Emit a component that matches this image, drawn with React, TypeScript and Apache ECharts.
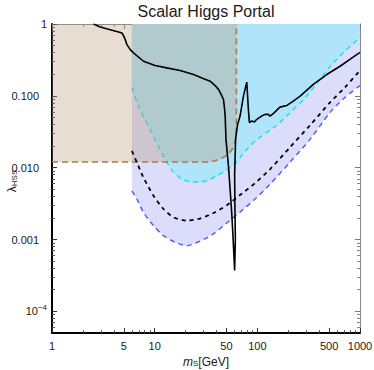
import React, { useEffect, useRef } from "react";
import * as echarts from "echarts";

// ---- data ----
// excluded region (brown dashed boundary)
const tanX = [1, 34.7, 43.4, 52.2, 58.5, 60.8, 62.1, 62.5, 62.5];
const tanY = [0.012, 0.012, 0.0131, 0.0154, 0.0191, 0.0224, 0.0308, 0.047, 1];

// upper band edge (cyan dashed)
const cyanX = [6, 7, 8, 9, 10, 11, 12.5, 15, 18, 22, 27, 33, 40, 50, 60, 75, 100, 150, 200, 300, 500, 700, 1000];
const cyanY = [0.13, 0.07, 0.047, 0.034, 0.025, 0.019, 0.0135, 0.0089, 0.0071, 0.0064, 0.0063, 0.0067, 0.0077, 0.0093, 0.0112, 0.0165, 0.025, 0.0376, 0.055, 0.098, 0.245, 0.41, 0.645];

// lower band edge (blue dashed)
const lowX = [6, 6.72, 7.78, 9.75, 12.2, 15.8, 20.6, 27.7, 37.4, 50.5, 67.8, 95, 133, 208, 326, 511, 713, 1000];
const lowY = [0.00477, 0.00366, 0.00239, 0.00156, 0.00113, 0.00092, 0.00082, 0.00095, 0.0012, 0.0017, 0.00241, 0.00366, 0.0059, 0.0119, 0.0248, 0.0589, 0.095, 0.139];

// median (black dashed)
const medX = [6, 6.72, 7.78, 9.75, 12.2, 15.3, 20.6, 27.7, 37.4, 50.5, 67.8, 95, 133, 208, 326, 511, 713, 1000];
const medY = [0.0171, 0.0118, 0.0073, 0.00406, 0.00266, 0.00204, 0.00183, 0.00196, 0.00234, 0.003, 0.00416, 0.0061, 0.0095, 0.0192, 0.0389, 0.081, 0.131, 0.225];

// solid black curve
const solidX = [2.54, 2.95, 3.69, 4.45, 4.8, 4.97, 5.17, 5.37, 5.78, 6.22, 7.78, 10.1, 13.1, 17.7, 23.9, 29.7, 34.7, 38.8, 41.8, 44.4, 46.8, 48.0, 48.6, 49.5, 52.3, 54.3, 56.4, 58.1, 60.1, 61.1, 60.5, 60.1, 61.4, 64.2, 67.9, 73.2, 78.9, 81.8, 83.7, 88.3, 93.6, 98.8, 110, 119, 128, 133, 143, 166, 194, 224, 261, 351, 474, 639, 929, 1000];
const solidY = [1.0, 0.909, 0.834, 0.775, 0.75, 0.689, 0.605, 0.516, 0.44, 0.396, 0.303, 0.264, 0.245, 0.225, 0.198, 0.174, 0.16, 0.139, 0.123, 0.105, 0.089, 0.0648, 0.0523, 0.0248, 0.0106, 0.00503, 0.00226, 0.00102, 0.00037, 0.00102, 0.00266, 0.0081, 0.0248, 0.04, 0.0523, 0.099, 0.155, 0.0648, 0.0424, 0.0446, 0.0432, 0.0471, 0.0523, 0.0552, 0.0552, 0.0523, 0.0565, 0.0697, 0.0736, 0.0844, 0.099, 0.144, 0.198, 0.258, 0.375, 0.404];

// ticks
const xLabelValues = [1, 5, 10, 50, 100, 500, 1000];
const xLabelTexts = ["1", "5", "10", "50", "100", "500", "1000"];
const xMinor = [2, 3, 4, 6, 7, 8, 9, 20, 30, 40, 60, 70, 80, 90, 200, 300, 400, 600, 700, 800, 900];
const yLabelValues = [0.0001, 0.001, 0.01, 0.1, 1];
const yLabelTexts = ["{a|10}{sup|−4}", "{d|0.001}", "{d|0.010}", "{d|0.100}", "{a|1}"];
const yMinor = [
  0.00006, 0.00007, 0.00008, 0.00009,
  0.0002, 0.0003, 0.0004, 0.0005, 0.0006, 0.0007, 0.0008, 0.0009,
  0.002, 0.003, 0.004, 0.005, 0.006, 0.007, 0.008, 0.009,
  0.02, 0.03, 0.04, 0.05, 0.06, 0.07, 0.08, 0.09,
  0.2, 0.3, 0.4, 0.5, 0.6, 0.7, 0.8, 0.9,
];

const FONT = "'Liberation Sans', Arial, sans-serif";
const pairs = (xs: number[], ys: number[]) => xs.map((x, i) => [x, ys[i]]);

function nearestIdx(vals: number[], v: number) {
  let best = 0;
  let bd = Infinity;
  vals.forEach((t, i) => {
    const d = Math.abs(Math.log10(t) - Math.log10(v));
    if (d < bd) {
      bd = d;
      best = i;
    }
  });
  return best;
}

export default function App() {
  const ref = useRef<HTMLDivElement>(null);
  useEffect(() => {
    if (!ref.current) return;
    const chart = echarts.init(ref.current, null, { renderer: "svg" });
    const X_MIN = 1, X_MAX = 1000, Y_MIN = 0.00005, Y_MAX = 1;
    const baseX = { type: "log", logBase: 10, min: X_MIN, max: X_MAX, splitLine: { show: false }, axisPointer: { show: false } };
    const baseY = { type: "log", logBase: 10, min: Y_MIN, max: Y_MAX, splitLine: { show: false }, axisPointer: { show: false } };
    const option: any = {
      animation: false,
      graphic: [
        {
          type: "text",
          x: 206,
          y: 3,
          style: {
            text: "Scalar Higgs Portal",
            fontSize: 16,
            fontFamily: FONT,
            fill: "#1a1a1a",
            align: "center",
            verticalAlign: "top",
          },
        },
        {
          type: "text",
          x: 12,
          y: 181,
          rotation: Math.PI / 2,
          style: {
            text: "{l|λ}{s|HSS}",
            align: "center",
            verticalAlign: "middle",
            fill: "#1a1a1a",
            rich: {
              l: { fontSize: 12, fontFamily: FONT, fill: "#1a1a1a" },
              s: { fontSize: 8, fontFamily: FONT, fill: "#1a1a1a", padding: [5, 0, 0, 0] },
            },
          },
        },
      ],
      grid: { left: 52, right: 14, top: 24, bottom: 37, containLabel: false, outerBoundsMode: "none" },
      xAxis: [
        {
          ...baseX,
          position: "bottom",
          axisLine: { show: true, lineStyle: { color: "#000", width: 2 } },
          axisTick: { show: true, inside: true, length: 5, customValues: xLabelValues, lineStyle: { color: "#333", width: 1 } },
          axisLabel: {
            customValues: xLabelValues,
            margin: 7,
            fontSize: 11,
            color: "#1a1a1a",
            fontFamily: FONT,
            formatter: (v: number) => xLabelTexts[nearestIdx(xLabelValues, v)],
          },
          name: "{m|m}{s|S}{g|[GeV]}",
          nameLocation: "middle",
          nameGap: 22,
          nameTextStyle: {
            rich: {
              m: { fontSize: 12, fontStyle: "italic", fontFamily: FONT, color: "#1a1a1a" },
              s: { fontSize: 8, fontFamily: FONT, color: "#1a1a1a", padding: [4, 0, 0, 0] },
              g: { fontSize: 12, fontFamily: FONT, color: "#1a1a1a" },
            },
          },
        },
        {
          ...baseX,
          position: "bottom",
          axisLine: { show: false },
          axisTick: { show: true, inside: true, length: 3, customValues: xMinor, lineStyle: { color: "#555", width: 1 } },
          axisLabel: { show: false },
        },
        {
          ...baseX,
          position: "top",
          axisLine: { show: true, lineStyle: { color: "#888", width: 1 } },
          axisTick: { show: true, inside: true, length: 5, customValues: xLabelValues, lineStyle: { color: "#777", width: 1 } },
          axisLabel: { show: false },
        },
        {
          ...baseX,
          position: "top",
          axisLine: { show: false },
          axisTick: { show: true, inside: true, length: 3, customValues: xMinor, lineStyle: { color: "#888", width: 1 } },
          axisLabel: { show: false },
        },
      ],
      yAxis: [
        {
          ...baseY,
          position: "left",
          axisLine: { show: true, lineStyle: { color: "#000", width: 2 } },
          axisTick: { show: true, inside: true, length: 5, customValues: yLabelValues, lineStyle: { color: "#333", width: 1 } },
          axisLabel: {
            customValues: yLabelValues,
            margin: 5,
            fontSize: 11,
            color: "#1a1a1a",
            fontFamily: FONT,
            formatter: (v: number) => yLabelTexts[nearestIdx(yLabelValues, v)],
            rich: {
              a: { fontSize: 11, fontFamily: FONT, color: "#1a1a1a" },
              d: { fontSize: 11, fontFamily: FONT, color: "#1a1a1a", padding: [0, 8, 0, 0] },
              sup: { fontSize: 8, fontFamily: FONT, color: "#1a1a1a", padding: [0, 0, 8, 0] },
            },
          },
        },
        {
          ...baseY,
          position: "left",
          axisLine: { show: false },
          axisTick: { show: true, inside: true, length: 3, customValues: yMinor, lineStyle: { color: "#555", width: 1 } },
          axisLabel: { show: false },
        },
        {
          ...baseY,
          position: "right",
          axisLine: { show: true, lineStyle: { color: "#888", width: 1 } },
          axisTick: { show: true, inside: true, length: 5, customValues: yLabelValues, lineStyle: { color: "#777", width: 1 } },
          axisLabel: { show: false },
        },
        {
          ...baseY,
          position: "right",
          axisLine: { show: false },
          axisTick: { show: true, inside: true, length: 3, customValues: yMinor, lineStyle: { color: "#888", width: 1 } },
          axisLabel: { show: false },
        },
      ],
      series: [
        {
          type: "line",
          name: "lower",
          data: pairs(lowX, lowY),
          symbol: "none",
          smooth: 0.25,
          lineStyle: { color: "#5c5cf2", width: 1.5, type: [5, 4] },
          areaStyle: { color: "#dcdcfb", opacity: 1, origin: "end" },
          z: 2,
        },
        {
          type: "line",
          name: "upper",
          data: pairs(cyanX, cyanY),
          symbol: "none",
          smooth: 0.25,
          lineStyle: { color: "#18e3ef", width: 1.5, type: [5, 4] },
          areaStyle: { color: "#b0e4fa", opacity: 1, origin: "end" },
          z: 3,
        },
        {
          type: "line",
          name: "excluded",
          data: pairs(tanX, tanY),
          symbol: "none",
          lineStyle: { color: "#b07a45", width: 1.6, type: [6, 4] },
          areaStyle: { color: "rgba(180,150,115,0.32)", opacity: 1, origin: "end" },
          z: 4,
        },
        {
          type: "line",
          name: "median",
          data: pairs(medX, medY),
          symbol: "none",
          smooth: 0.25,
          lineStyle: { color: "#000", width: 1.8, type: [4, 4] },
          z: 5,
        },
        {
          type: "line",
          name: "solid",
          data: pairs(solidX, solidY),
          symbol: "none",
          lineStyle: { color: "#000", width: 1.6 },
          z: 6,
        },
      ],
    };
    chart.setOption(option);
    return () => chart.dispose();
  }, []);
  return (
    <div
      ref={ref}
      style={{ position: "fixed", left: 0, top: 0, width: 374, height: 370, background: "#fff" }}
    />
  );
}
